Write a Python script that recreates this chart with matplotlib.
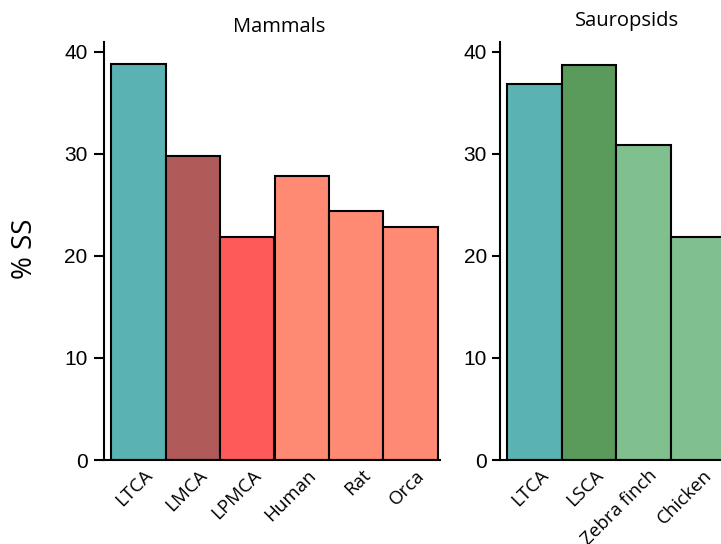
import matplotlib
matplotlib.use("Agg")
import matplotlib.pyplot as plt
import matplotlib.transforms as mtransforms

# %SS per lineage
mammal_labels = ["LTCA", "LMCA", "LPMCA", "Human", "Rat", "Orca"]
mammal_ss = [38.8, 29.8, 21.8, 27.8, 24.4, 22.8]
mammal_colors = ["#5ab2b2", "#b05a5a", "#ff5a5a", "#ff8a73", "#ff8a73", "#ff8a73"]

sauropsid_labels = ["LTCA", "LSCA", "Zebra finch", "Chicken"]
sauropsid_ss = [36.8, 38.7, 30.9, 21.8]
sauropsid_colors = ["#5ab2b2", "#5a9a5a", "#80bf8e", "#80bf8e"]

y_ticks = [0, 10, 20, 30, 40]

W, H = 721, 544
fig = plt.figure(figsize=(W / 100, H / 100), dpi=100)

PX_PER_BAR = 54.5


def px_axes(left, top, right, bottom):
    return fig.add_axes([left / W, 1 - bottom / H, (right - left) / W, (bottom - top) / H])


def draw_panel(ax, labels, values, colors, title, title_x, title_pad, tick_len, tick_pad, width_px):
    x = range(len(values))
    ax.bar(x, values, width=1.0, color=colors, edgecolor="black", linewidth=1.5, zorder=2)
    left_margin = 7 / PX_PER_BAR
    ax.set_xlim(-0.5 - left_margin, -0.5 - left_margin + width_px / PX_PER_BAR)
    ax.set_ylim(0, 41)
    ax.set_yticks(y_ticks)
    ax.tick_params(axis="y", length=tick_len, width=1.5, pad=tick_pad, labelsize=15)
    for lab in ax.get_yticklabels():
        lab.set_fontfamily("Liberation Sans")
    ax.set_xticks(list(x))
    ax.set_xticklabels(labels, fontfamily="Open Sans", fontsize=13.5)
    ax.tick_params(axis="x", length=0, pad=4.5)
    shift = mtransforms.ScaledTranslation(5 / 100, 0, fig.dpi_scale_trans)
    for lab in ax.get_xticklabels():
        lab.set_rotation(45)
        lab.set_ha("right")
        lab.set_rotation_mode("anchor")
        lab.set_transform(lab.get_transform() + shift)
    for side in ("top", "right"):
        ax.spines[side].set_visible(False)
    for side in ("left", "bottom"):
        ax.spines[side].set_linewidth(1.5)
    ax.set_title(title, fontfamily="Open Sans", fontsize=14.5, x=title_x, pad=title_pad)


ax1 = px_axes(104, 41.5, 440, 460)
draw_panel(ax1, mammal_labels, mammal_ss, mammal_colors, "Mammals",
           title_x=0.521, title_pad=6.5, tick_len=7.5, tick_pad=4.3, width_px=336)

ax2 = px_axes(500, 41.5, 732, 460)
draw_panel(ax2, sauropsid_labels, sauropsid_ss, sauropsid_colors, "Sauropsids",
           title_x=0.547, title_pad=11.5, tick_len=6, tick_pad=3.4, width_px=232)

fig.text(25 / W, 1 - 249 / H, "% SS", rotation=90, ha="center", va="center",
         fontfamily="Open Sans", fontsize=20)

fig.savefig("out.png", dpi=100)
